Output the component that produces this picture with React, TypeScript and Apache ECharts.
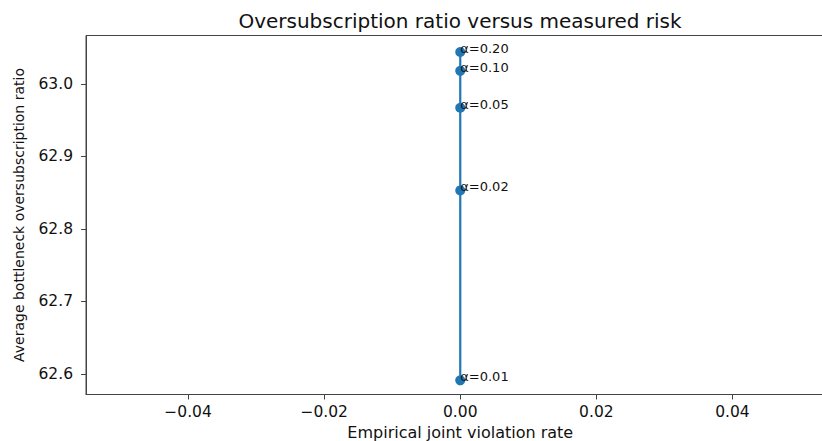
import React, { useEffect, useRef } from "react";
import * as echarts from "echarts";

const alphaLabels = ["α=0.01", "α=0.02", "α=0.05", "α=0.10", "α=0.20"];
const violationRate = [0, 0, 0, 0, 0];
const oversubRatio = [62.591, 62.853, 62.967, 63.018, 63.044];
const xTicks = [-0.04, -0.02, 0, 0.02, 0.04];
const yTicks = [62.6, 62.7, 62.8, 62.9, 63.0];

const FONT = "DejaVu Sans";

export default function App() {
  const ref = useRef<HTMLDivElement>(null);
  useEffect(() => {
    document.body.style.margin = "0";
    const chart = echarts.init(ref.current!, null, { renderer: "svg" });
    const data = violationRate.map((x, i) => ({
      value: [x, oversubRatio[i]],
      label: { formatter: alphaLabels[i] },
    }));
    chart.setOption({
      animation: false,
      backgroundColor: "#fff",
      graphic: [
        {
          type: "text",
          x: 460,
          y: 21,
          style: {
            text: "Oversubscription ratio versus measured risk",
            fontFamily: FONT,
            fontSize: 20,
            fill: "#111",
            textAlign: "center",
            textVerticalAlign: "middle",
          },
        },
      ],
      grid: {
        left: 86,
        top: 35.5,
        width: 748.5,
        height: 359,
        show: true,
        borderColor: "#444",
        borderWidth: 1,
        backgroundColor: "transparent",
        containLabel: false,
        outerBoundsMode: "none",
      },
      xAxis: {
        type: "value",
        min: -0.055,
        max: 0.055,
        name: "Empirical joint violation rate",
        nameLocation: "middle",
        nameGap: 29,
        nameTextStyle: { fontFamily: FONT, fontSize: 16, color: "#111" },
        axisLine: { show: true, onZero: false, lineStyle: { color: "#444", width: 1 } },
        axisTick: { show: true, length: 5, customValues: xTicks, lineStyle: { color: "#444" } },
        splitLine: { show: false },
        axisLabel: {
          customValues: xTicks,
          fontFamily: FONT,
          fontSize: 15.5,
          color: "#111",
          margin: 9,
          formatter: (v: number) => (v < 0 ? "\u2212" : "") + Math.abs(v).toFixed(2),
        },
      },
      yAxis: {
        type: "value",
        min: 62.5715,
        max: 63.0667,
        name: "Average bottleneck oversubscription ratio",
        nameLocation: "middle",
        nameGap: 60,
        nameRotate: 90,
        nameTextStyle: { fontFamily: FONT, fontSize: 14, color: "#111" },
        axisLine: { show: true, onZero: false, lineStyle: { color: "#444", width: 1 } },
        axisTick: { show: true, length: 5, customValues: yTicks, lineStyle: { color: "#444" } },
        splitLine: { show: false },
        axisLabel: {
          customValues: yTicks,
          fontFamily: FONT,
          fontSize: 15.5,
          color: "#111",
          margin: 13,
          formatter: (v: number) => v.toFixed(1),
        },
      },
      series: [
        {
          type: "line",
          data,
          symbol: "circle",
          symbolSize: 10,
          color: "#1f77b4",
          lineStyle: { color: "#1f77b4", width: 2.2 },
          itemStyle: { color: "#1f77b4" },
          label: {
            show: true,
            position: [5, 8],
            align: "left",
            verticalAlign: "bottom",
            fontFamily: FONT,
            fontSize: 13,
            color: "#111",
          },
        },
      ],
    });
    return () => chart.dispose();
  }, []);
  return <div ref={ref} style={{ width: 822, height: 441 }} />;
}
